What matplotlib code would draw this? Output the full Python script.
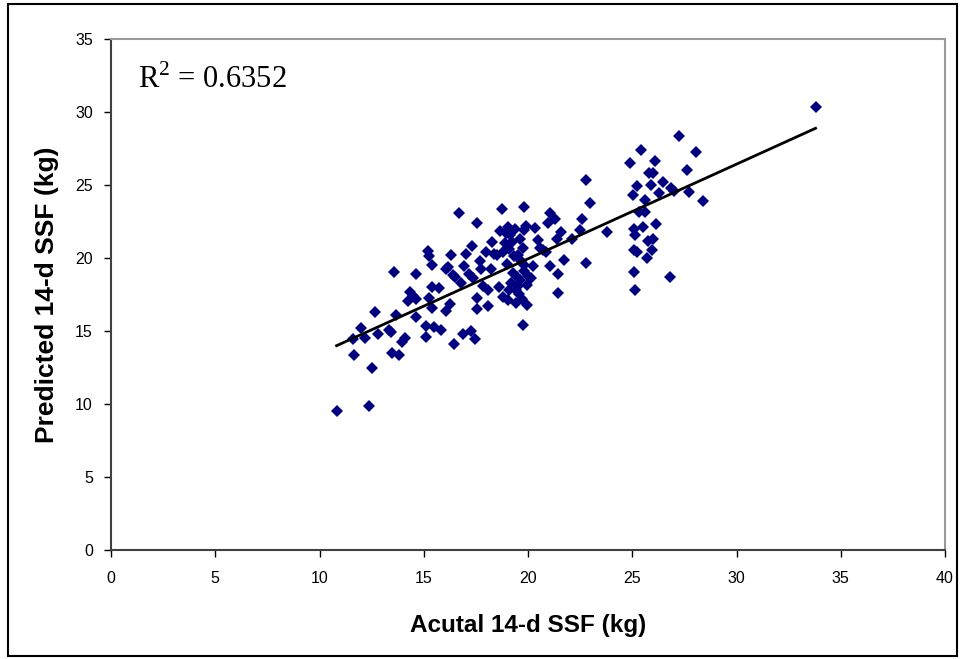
import numpy as np
import matplotlib.pyplot as plt
from matplotlib.patches import Rectangle

actual = [10.82, 12.35, 12.5, 11.65, 11.59, 11.97, 12.2, 12.65, 12.82, 13.32,
          13.44, 13.47, 13.79, 13.59, 13.68, 13.97, 14.09, 14.24, 14.32, 14.5,
          14.65, 14.65, 14.65, 15.12, 15.09, 15.18, 15.26, 15.41, 15.26, 15.38,
          15.41, 15.71, 15.5, 15.85, 16.06, 16.15, 16.06, 16.24, 16.32, 16.38,
          16.5, 16.47, 16.68, 16.79, 16.88, 16.94, 17.03, 17.18, 17.26, 17.32,
          17.38, 17.47, 17.53, 17.53, 17.56, 17.71, 17.76, 17.82, 17.97, 18.06,
          18.06, 18.21, 18.29, 18.35, 18.5, 18.65, 18.74, 18.59, 18.79, 18.94,
          19.03, 19.15, 19.03, 19.09, 19.24, 19.32, 19.38, 19.47, 19.53, 19.59,
          19.74, 19.82, 19.91, 19.82, 19.76, 19.68, 19.82, 19.97, 19.97, 20.12,
          20.26, 20.32, 20.47, 20.56, 20.71, 20.85, 20.94, 21.06, 21.06, 21.29,
          21.38, 21.44, 21.44, 21.59, 21.74, 22.09, 22.47, 22.59, 22.76, 22.76,
          22.97, 23.79, 24.88, 25.03, 25.06, 25.06, 25.12, 25.12, 25.06, 25.21,
          25.21, 25.32, 25.41, 25.5, 25.62, 25.62, 25.71, 25.76, 25.79, 25.91,
          25.97, 25.94, 26.0, 26.09, 26.15, 26.29, 26.47, 26.79, 26.88, 27.0,
          27.24, 27.62, 27.71, 28.06, 28.38, 33.79,
          19.2, 19.4, 19.6, 19.3, 19.8, 19.5, 19.0, 19.7, 19.4, 20.0,
          18.8, 19.1, 19.6, 18.9]
predicted = [9.54, 9.88, 12.47, 13.34, 14.43, 15.24, 14.55, 16.31, 14.78, 15.07,
             14.92, 13.48, 13.34, 19.01, 16.08, 14.26, 14.49, 17.08, 17.66, 17.37,
             17.17, 18.9, 15.96, 14.58, 15.33, 20.48, 20.11, 19.53, 17.29, 16.57,
             18.04, 17.95, 15.27, 15.07, 19.25, 19.39, 16.36, 16.88, 20.23, 18.81,
             18.73, 14.12, 23.08, 18.32, 14.78, 19.48, 20.25, 18.9, 15.01, 20.83,
             18.61, 14.43, 22.41, 17.29, 16.51, 19.82, 19.25, 18.09, 20.4, 17.8,
             16.74, 19.25, 21.12, 20.25, 20.2, 21.84, 23.34, 18.04, 20.4, 21.7,
             22.13, 21.55, 17.14, 17.8, 21.12, 20.11, 21.98, 18.67, 18.09, 17.52,
             20.69, 23.48, 22.21, 21.9, 15.44, 19.82, 19.1, 18.15, 16.8, 18.61,
             19.48, 22.07, 21.26, 20.69, 20.54, 20.4, 22.41, 23.08, 19.48, 22.7,
             21.32, 18.9, 17.6, 21.78, 19.88, 21.32, 21.9, 22.64, 25.35, 19.68,
             23.8, 21.75, 26.53, 24.29, 21.98, 19.01, 17.8, 21.61, 20.54, 24.95,
             20.4, 23.13, 27.4, 22.13, 24.0, 23.13, 19.97, 21.18, 25.79, 25.0,
             25.81, 20.54, 21.32, 26.65, 22.36, 24.43, 25.24, 18.73, 24.78, 24.58,
             28.38, 26.02, 24.49, 27.25, 23.91, 30.34,
             18.3, 17.8, 18.5, 19.0, 19.5, 20.2, 19.6, 17.2, 16.9, 18.8,
             17.3, 20.6, 21.3, 21.0]
r2_label = "0.6352"

plt.rcParams['mathtext.fontset'] = 'custom'
plt.rcParams['mathtext.rm'] = 'Liberation Serif'

x = np.array(actual)
y = np.array(predicted)
slope, intercept = np.polyfit(x, y, 1)

fig = plt.figure(figsize=(9.61, 6.59), dpi=100)
ax = fig.add_axes([0.1155, 0.1654, 0.8679, 0.7754])

ax.plot(x, y, 'D', color='#000080', markersize=6.5, markeredgewidth=0, zorder=3)
xs = np.array([x.min(), x.max()])
ax.plot(xs, slope * xs + intercept, color='black', lw=2, zorder=4)

ax.set_xlim(0, 40)
ax.set_ylim(0, 35)
ax.set_xticks(range(0, 41, 5))
ax.set_yticks(range(0, 36, 5))
ax.tick_params(direction='out', length=5, width=1, labelsize=11.5,
               colors='black')
ax.tick_params(axis='x', pad=10)
ax.tick_params(axis='y', pad=8)
for lab in ax.get_xticklabels() + ax.get_yticklabels():
    lab.set_family('Liberation Sans')

for s in ['top', 'right']:
    ax.spines[s].set_color('#999999')
    ax.spines[s].set_linewidth(1.5)
for s in ['left', 'bottom']:
    ax.spines[s].set_color('#404040')
    ax.spines[s].set_linewidth(1.5)

ax.set_xlabel('Acutal 14-d SSF (kg)', family='Liberation Sans', fontsize=17.5,
              fontweight='bold', labelpad=20)
ax.set_ylabel('Predicted 14-d SSF (kg)', family='Liberation Sans', fontsize=19,
              fontweight='bold', labelpad=12)

ax.text(0.032, 0.92, r'R$^2$ = ' + r2_label, transform=ax.transAxes,
        family='Liberation Serif', fontsize=22, va='center', ha='left')

# outer frame of the chart
fig.patches.append(Rectangle((0.008, 0.004), 0.988, 0.99, transform=fig.transFigure,
                             fill=False, edgecolor='black', lw=1.5))

fig.savefig('out.png', dpi=100)
